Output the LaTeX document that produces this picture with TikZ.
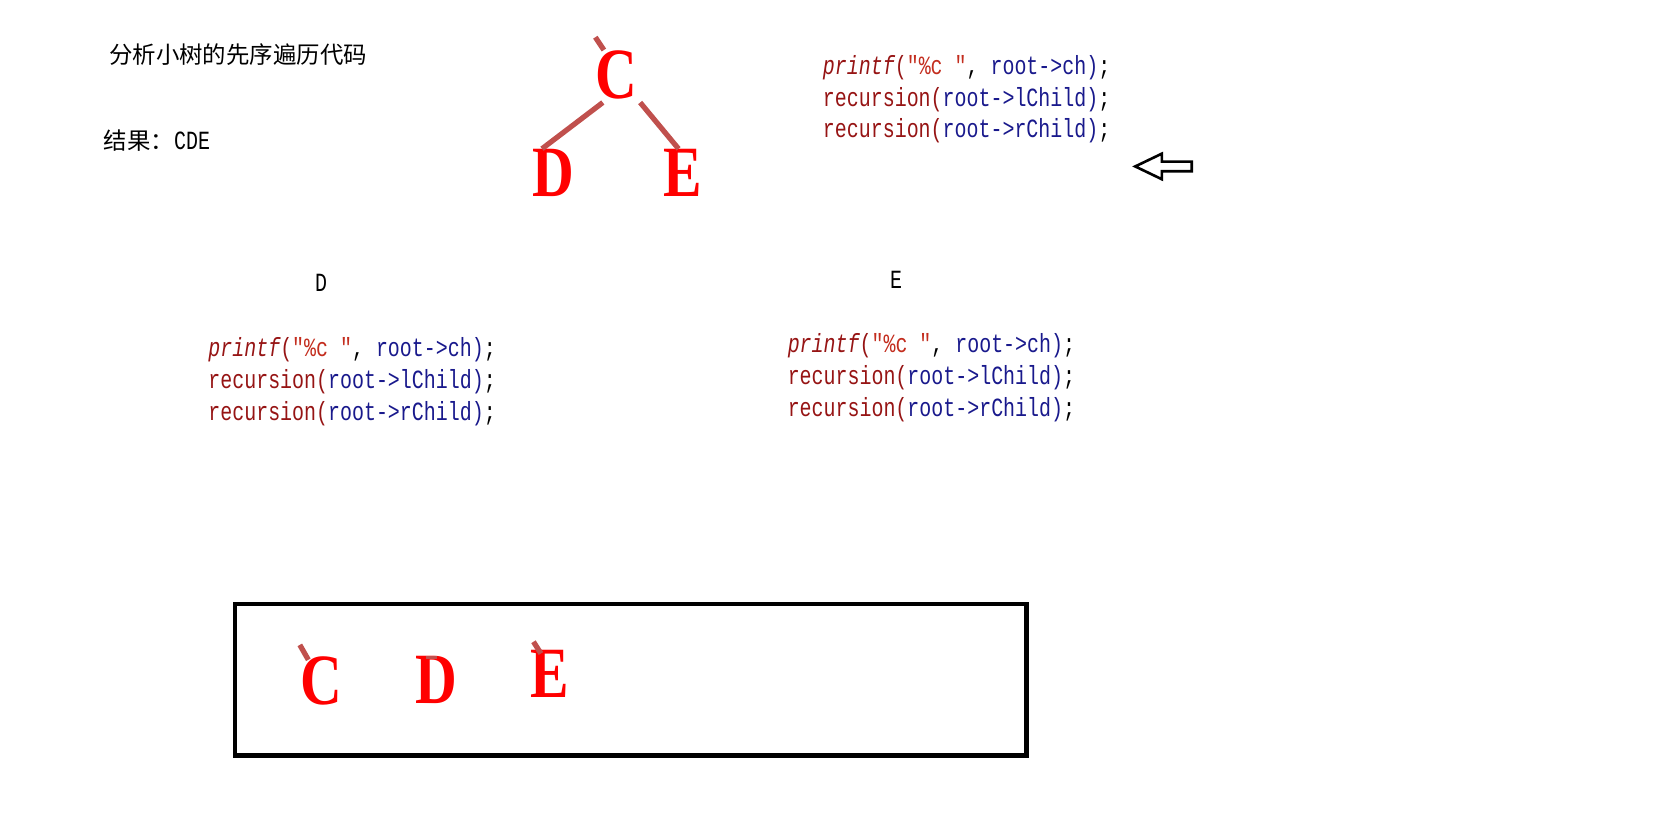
\documentclass[tikz,border=0pt]{standalone}
\usepackage{fontspec}
\setmainfont{Liberation Serif}
\newfontfamily\cjk{Noto Sans CJK SC}
\newfontfamily\codefont[FakeStretch=0.76]{Liberation Mono}
\newfontfamily\letterfont[FakeStretch=0.8]{Liberation Serif Bold}
\definecolor{edgered}{RGB}{192,80,77}
\definecolor{kwred}{RGB}{150,20,20}
\definecolor{strred}{RGB}{195,45,30}
\definecolor{ptrblue}{RGB}{25,25,140}
\newcommand{\preorder}{%
{\color{kwred}\itshape printf}{\color{kwred}(}{\color{strred}"\%c "}, {\color{ptrblue}root->ch)};\\
{\color{kwred}recursion(}{\color{ptrblue}root->lChild)};\\
{\color{kwred}recursion(}{\color{ptrblue}root->rChild)};}
\tikzset{
  letter/.style={text=red, inner sep=0pt, font=\letterfont\fontsize{38.5}{38.5}\selectfont},
  edge/.style={draw=edgered, line width=2.8pt},
  codebox/.style={anchor=west, align=left, inner sep=0pt, font=\codefont\fontsize{14}{17}\selectfont},
  plain/.style={inner sep=0pt, font=\codefont\fontsize{14}{17}\selectfont}
}
\begin{document}
\begin{tikzpicture}
\useasboundingbox (0,0) rectangle (31.38,-15.56);
% heading
\path (2.04,-1.02) node[anchor=west, inner sep=0pt, font=\cjk\fontsize{12.5}{15}\selectfont] (title) {分析小树的先序遍历代码};
\path (1.94,-2.64) node[anchor=west, inner sep=0pt, font=\cjk\fontsize{12.5}{15}\selectfont] (result) {结果：{\codefont\fontsize{14}{17}\selectfont CDE}};
% small tree
\path (11.56,-1.40) node[letter] (C) {C};
\path (10.38,-3.24) node[letter] (D) {D};
\path (12.80,-3.24) node[letter] (E) {E};
\draw[edge] ([xshift=-0.24cm]C.north) -- ++(-0.16,0.24);
\draw[edge] ([xshift=-0.26cm,yshift=-0.06cm]C.south) -- ([xshift=-0.22cm]D.north);
\draw[edge] ([xshift=0.44cm,yshift=-0.06cm]C.south) -- ([xshift=-0.08cm]E.north);
% code of the root
\path (15.42,-1.86) node[codebox] (codeC) {\preorder};
\draw[line width=1.4pt, line join=miter] (21.28,-3.12) -- (21.78,-2.88) -- (21.78,-3.03) -- (22.34,-3.03)
  -- (22.34,-3.21) -- (21.78,-3.21) -- (21.78,-3.36) -- cycle;
% code of the children
\path (6.02,-5.30) node[plain] (lblD) {D};
\path (16.80,-5.24) node[plain] (lblE) {E};
\path (3.90,-7.16) node[codebox] (codeD) {\preorder};
\path (14.76,-7.08) node[codebox] (codeE) {\preorder};
% output
\draw[line width=2.3pt] (4.40,-11.32) rectangle (19.24,-14.16);
\path (6.02,-12.76) node[letter] (outC) {C};
\path (8.18,-12.74) node[letter] (outD) {D};
\path (10.30,-12.64) node[letter] (outE) {E};
\draw[edge] ([xshift=-0.24cm,yshift=-0.07cm]outC.north) -- ++(-0.16,0.28);
\draw[edge, line width=1.6pt] ([xshift=-0.2cm,yshift=-0.04cm]outD.north) -- ([xshift=0.02cm,yshift=-0.04cm]outD.north);
\draw[edge] ([xshift=-0.16cm,yshift=-0.06cm]outE.north) -- ++(-0.14,0.22);
\end{tikzpicture}
\end{document}
